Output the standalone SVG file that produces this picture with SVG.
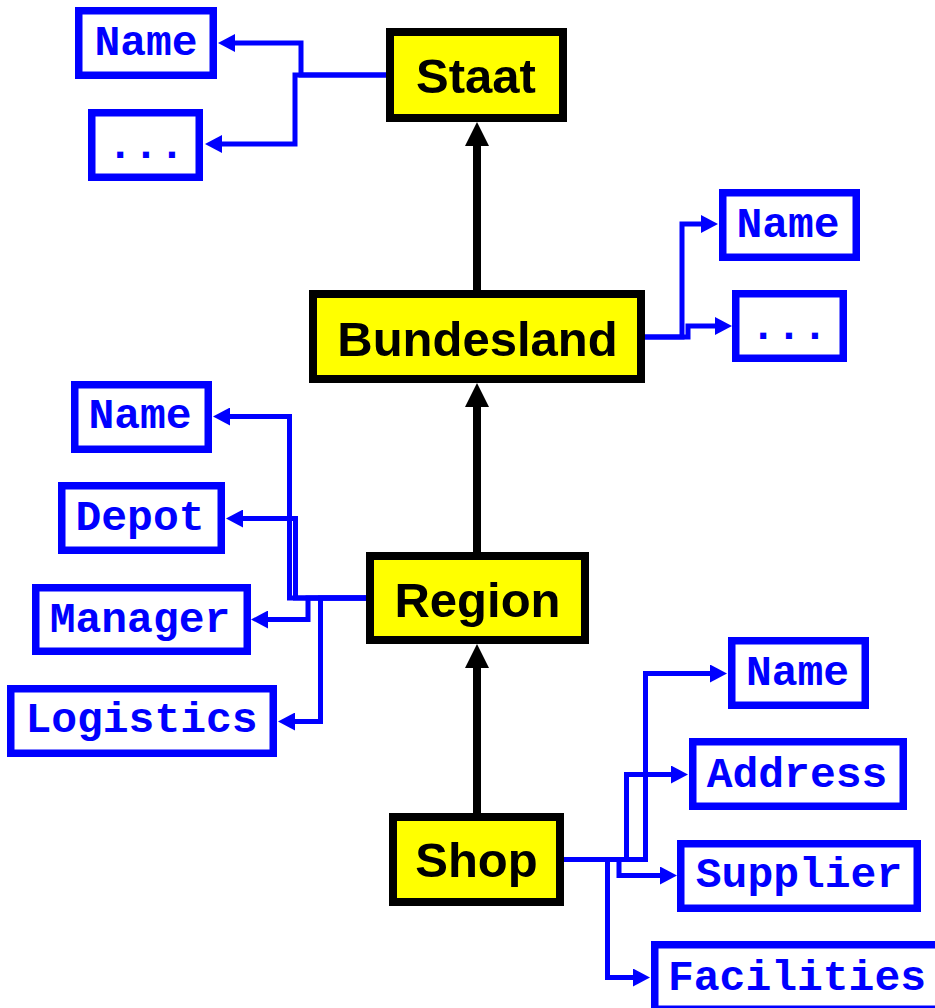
<svg xmlns="http://www.w3.org/2000/svg" width="935" height="1008" viewBox="0 0 935 1008">
<style>
.ent rect{fill:#FFFF00;stroke:#000;stroke-width:8}
.ent text{font-family:"Liberation Sans",Arial,sans-serif;font-weight:bold;font-size:49px;fill:#000;text-anchor:middle}
.att rect{fill:#fff;stroke:#0000FF;stroke-width:7.5}
.att text{font-family:"Liberation Mono","Courier New",monospace;font-weight:bold;font-size:43px;fill:#0000FF;text-anchor:middle}
.blk{fill:none;stroke:#000;stroke-width:8;marker-end:url(#ah-black)}
.blu{fill:none;stroke:#0000FF;stroke-width:5;stroke-linejoin:miter;marker-end:url(#ah-blue)}
</style>
<defs>
<marker id="ah-black" markerUnits="userSpaceOnUse" viewBox="0 0 24 24" markerWidth="24" markerHeight="24" refX="0" refY="12" orient="auto">
<path d="M0,0 L24,12 L0,24 Z" fill="#000"/>
</marker>
<marker id="ah-blue" markerUnits="userSpaceOnUse" viewBox="0 0 17 18" markerWidth="17" markerHeight="18" refX="0" refY="9" orient="auto">
<path d="M0,0 L17,9 L0,18 Z" fill="#0000FF"/>
</marker>
</defs>
<rect width="935" height="1008" fill="#fff"/>
<g id="connectors">
<path class="blk" d="M477,290 V146"/>
<path class="blk" d="M477,552 V407"/>
<path class="blk" d="M477,813 V668"/>
<path class="blu" d="M386,75 H301 V43 H235"/>
<path class="blu" d="M386,75 H295 V144 H222"/>
<path class="blu" d="M645,337 H682 V224 H701"/>
<path class="blu" d="M645,337 H688 V326 H715"/>
<path class="blu" d="M366,598 H289.5 V416.5 H230"/>
<path class="blu" d="M366,598 H295.5 V518.5 H243"/>
<path class="blu" d="M366,598 H308 V619.5 H268"/>
<path class="blu" d="M366,598 H320.5 V721.5 H295"/>
<path class="blu" d="M564,859.5 H645.5 V673.5 H710"/>
<path class="blu" d="M564,859.5 H626.5 V774.5 H671"/>
<path class="blu" d="M564,859.5 H619 V875.5 H660"/>
<path class="blu" d="M564,859.5 H607.5 V977.5 H633"/>
</g>
<g id="staat" class="ent"><rect x="390" y="32" width="173" height="86"/><text x="476" y="93">Staat</text></g>
<g id="bundesland" class="ent"><rect x="313" y="294" width="328" height="85"/><text x="477.5" y="356">Bundesland</text></g>
<g id="region" class="ent"><rect x="370" y="556" width="215" height="84"/><text x="477.5" y="617">Region</text></g>
<g id="shop" class="ent"><rect x="393" y="817" width="167" height="85"/><text x="476.5" y="877">Shop</text></g>
<g id="staat-name" class="att"><rect x="78.75" y="10.75" width="134.5" height="64.5"/><text x="146" y="55">Name</text></g>
<g id="staat-more" class="att"><rect x="91.75" y="112.75" width="107.5" height="64.5"/><text x="146" y="158">...</text></g>
<g id="bundesland-name" class="att"><rect x="722.75" y="192.75" width="133.5" height="64.5"/><text x="788" y="237">Name</text></g>
<g id="bundesland-more" class="att"><rect x="735.75" y="293.75" width="107.5" height="64.5"/><text x="789" y="339">...</text></g>
<g id="region-name" class="att"><rect x="74.75" y="384.75" width="133.5" height="64.5"/><text x="140" y="428">Name</text></g>
<g id="region-depot" class="att"><rect x="61.75" y="485.75" width="159.5" height="64.5"/><text x="140" y="530">Depot</text></g>
<g id="region-manager" class="att"><rect x="35.75" y="587.75" width="211.5" height="63.5"/><text x="140" y="632">Manager</text></g>
<g id="region-logistics" class="att"><rect x="10.75" y="688.75" width="262.5" height="64.5"/><text x="141.5" y="732">Logistics</text></g>
<g id="shop-name" class="att"><rect x="731.75" y="640.75" width="133.5" height="64.5"/><text x="797.5" y="685">Name</text></g>
<g id="shop-address" class="att"><rect x="692.75" y="741.75" width="210.5" height="64.5"/><text x="797" y="787">Address</text></g>
<g id="shop-supplier" class="att"><rect x="680.75" y="843.75" width="236.5" height="64.5"/><text x="799" y="887">Supplier</text></g>
<g id="shop-facilities" class="att"><rect x="654.75" y="944.75" width="286" height="64.5"/><text x="797" y="990">Facilities</text></g>
</svg>
